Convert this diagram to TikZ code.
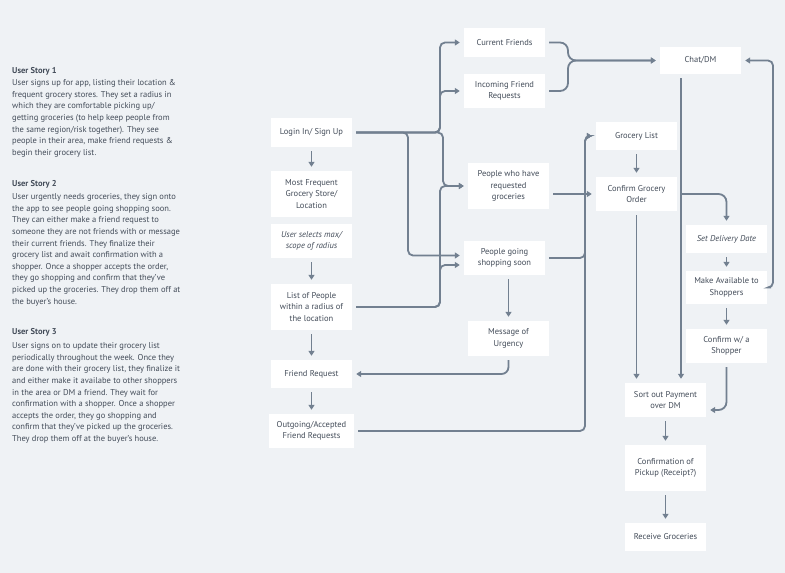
\documentclass[tikz,border=0pt]{standalone}
\usepackage{fontspec}
\setmainfont{PT Sans}
\usetikzlibrary{arrows.meta,calc}
\definecolor{bgc}{HTML}{EFF2F5}
\definecolor{txt}{HTML}{434C59}
\definecolor{lnc}{HTML}{728090}
\begin{document}
\begin{tikzpicture}[x=1pt,y=-1pt,
  box/.style={fill=white,inner sep=0pt,minimum width=81pt,align=center,text=txt,font=\fontsize{8.5}{11.6}\selectfont},
  conn/.style={draw=lnc,line width=1.8pt,rounded corners=5pt,-{Triangle[length=5pt,width=6pt]},shorten >=4pt,shorten <=4pt},
  story/.style={inner sep=0pt,align=left,text=txt,font=\fontsize{8.5}{11.6}\selectfont},
  title/.style={inner sep=0pt,text=txt,font=\fontsize{8.5}{11.6}\selectfont\bfseries}]
\fill[bgc] (0,0) rectangle (785,573);
\useasboundingbox (0,0) rectangle (785,573);
% left text
\node[title,anchor=base west] (t1) at (12,73) {User Story 1};
\node[story,anchor=north west] (s1) at (12,79.5) {User signs up for app, listing their location \&\\frequent grocery stores. They set a radius in\\which they are comfortable picking up/\\getting groceries (to help keep people from\\the same region/risk together). They see\\people in their area, make friend requests \&\\begin their grocery list.};
\node[title,anchor=base west] (t2) at (12,186) {User Story 2};
\node[story,anchor=north west] (s2) at (12,193.5) {User urgently needs groceries, they sign onto\\the app to see people going shopping soon.\\They can either make a friend request to\\someone they are not friends with or message\\their current friends. They finalize their\\grocery list and await confirmation with a\\shopper. Once a shopper accepts the order,\\they go shopping and confirm that they've\\picked up the groceries. They drop them off at\\the buyer's house.};
\node[title,anchor=base west] (t3) at (12,334) {User Story 3};
\node[story,anchor=north west] (s3) at (12,342.5) {User signs on to update their grocery list\\periodically throughout the week. Once they\\are done with their grocery list, they finalize it\\and either make it availabe to other shoppers\\in the area or DM a friend. They wait for\\confirmation with a shopper. Once a shopper\\accepts the order, they go shopping and\\confirm that they've picked up the groceries.\\They drop them off at the buyer's house.};
% boxes
\node[box,minimum height=29pt] (login) at (311.5,132.5) {Login In/ Sign Up};
\node[box,minimum height=46pt] (freq) at (311.5,194) {Most Frequent\\Grocery Store/\\Location};
\node[box,minimum height=34pt,font=\fontsize{8.5}{11.6}\selectfont\itshape] (radius) at (311.5,241) {User selects max/\\scope of radius};
\node[box,minimum height=46pt] (list) at (311.5,307) {List of People\\within a radius of\\the location};
\node[box,minimum height=28pt] (freqr) at (311.5,374) {Friend Request};
\node[box,minimum height=34pt,minimum width=85pt] (outgoing) at (311.5,431) {Outgoing/Accepted\\Friend Requests};
\node[box,minimum height=29pt] (current) at (504.5,42.5) {Current Friends};
\node[box,minimum height=34pt] (incoming) at (504.5,91) {Incoming Friend\\Requests};
\node[box,minimum height=46pt] (requested) at (508.5,186) {People who have\\requested\\groceries};
\node[box,minimum height=34pt] (going) at (504.5,258) {People going\\shopping soon};
\node[box,minimum height=35pt] (urgency) at (508.5,338.5) {Message of\\Urgency};
\node[box,minimum height=27pt] (chat) at (700.5,60.5) {Chat/DM};
\node[box,minimum height=28pt] (grocery) at (636.5,136) {Grocery List};
\node[box,minimum height=34pt] (confirm) at (636.5,194) {Confirm Grocery\\Order};
\node[box,minimum height=28pt,font=\fontsize{8.5}{11.6}\selectfont\itshape] (delivery) at (726.5,239) {Set Delivery Date};
\node[box,minimum height=33pt] (avail) at (726.5,287.5) {Make Available to\\Shoppers};
\node[box,minimum height=34pt] (shopper) at (726.5,346) {Confirm w/ a\\Shopper};
\node[box,minimum height=34pt] (payment) at (665.5,400) {Sort out Payment\\over DM};
\node[box,minimum height=46pt] (pickup) at (665.5,468) {Confirmation of\\Pickup (Receipt?)};
\node[box,minimum height=28pt] (receive) at (665.5,537) {Receive Groceries};
% helper coordinates
\coordinate (ja) at (408,0);
\coordinate (jb) at (440,0);
\coordinate (jc) at (443,0);
\coordinate (jd) at (568,0);
\coordinate (je) at (585,0);
\coordinate (jf) at (681,0);
\coordinate (jg) at (773,0);
\coordinate (g1) at ($(going.west)+(0,-2.5)$);
\coordinate (g2) at ($(going.west)+(0,7)$);
\coordinate (p1) at ($(payment.east)+(0,10)$);
% left column
\draw[conn] (login) -- (freq);
\draw[conn] (radius) -- (list);
\draw[conn] (list) -- (freqr);
\draw[conn] (freqr) -- (outgoing);
% login branches
\draw[conn] (login.east) -- (login.east -| jb) -- (current.west -| jb) -- (current.west);
\draw[conn] (login.east) -- (login.east -| jb) -- (incoming.west -| jb) -- (incoming.west);
\draw[conn] (login.east) -- (login.east -| jc) -- (requested.west -| jc) -- (requested.west);
\draw[conn] (login.east) -- (login.east -| ja) -- (g1 -| ja) -- (g1);
% list branches
\draw[conn] (list.east) -- (list.east -| jb) -- (g2 -| jb) -- (g2);
\draw[conn] (list.east) -- (list.east -| jb) -- (requested.west -| jb) -- (requested.west);
% to grocery list
\draw[conn] (going.east) -- (going.east -| je) -- (grocery.west -| je) -- (grocery.west);
\draw[conn] (outgoing.east) -- (outgoing.east -| je) -- (grocery.west -| je) -- (grocery.west);
\draw[conn] (requested.east |- confirm.west) -- (confirm.west);
% friends to chat
\draw[conn,rounded corners=8pt] (current.east) -- (current.east -| jd) -- (chat.west -| jd) -- (chat.west);
\draw[conn,rounded corners=8pt] (incoming.east) -- (incoming.east -| jd) -- (chat.west -| jd) -- (chat.west);
% urgency
\draw[conn] (going.south -| urgency.north) -- (urgency.north);
\draw[conn,rounded corners=7pt] (urgency.south) -- (urgency.south |- freqr.east) -- (freqr.east);
% right part
\draw[conn] (grocery) -- (confirm);
\draw[conn] (chat.south -| jf) -- (payment.north -| jf);
\draw[conn] (confirm.south) -- (confirm.south |- payment.north);
\draw[conn,rounded corners=8pt] (confirm.east) -- (confirm.east -| delivery.north) -- (delivery.north);
\draw[conn] (delivery) -- (avail);
\draw[conn] (avail.east) -- (avail.east -| jg) -- (chat.east -| jg) -- (chat.east);
\draw[conn] (avail) -- (shopper);
\draw[conn,rounded corners=8pt] (shopper.south) -- (shopper.south |- p1) -- (p1);
\draw[conn] (payment) -- (pickup);
\draw[conn] (pickup) -- (receive);
\end{tikzpicture}
\end{document}
